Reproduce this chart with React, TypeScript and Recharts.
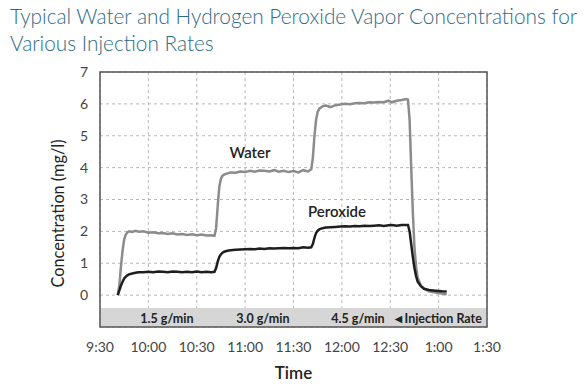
import React from 'react';
import { LineChart, Line, XAxis, YAxis, CartesianGrid, ReferenceArea, ReferenceDot } from 'recharts';

// minutes after 9:30
const minutes = [
  11, 12, 13, 14, 15, 16, 17, 18, 20, 22, 24, 27, 30, 33, 36, 39, 42, 45, 48, 51, 54, 57, 60, 63, 66, 69, 71,
  72, 73, 74, 75, 76, 77, 79, 81, 84, 87, 90, 93, 96, 99, 102, 105, 108, 111, 114, 117, 120, 123, 126, 129, 131,
  132, 133, 134, 135, 136, 138, 140, 143, 146, 149, 152, 155, 158, 161, 164, 167, 170, 173, 176, 179, 181, 184, 187, 190, 191,
  192, 193, 194, 195, 196, 197, 199, 201, 204, 208, 212, 215,
];

const water = [
  0.0, 0.3, 0.9, 1.4, 1.75, 1.9, 1.97, 2.0, 1.98, 2.02, 1.99, 2.0, 1.96, 1.97, 1.94, 1.95, 1.92, 1.94, 1.9, 1.92, 1.89, 1.91, 1.88, 1.9, 1.87, 1.88, 1.86,
  2.1, 2.8, 3.4, 3.65, 3.75, 3.78, 3.82, 3.85, 3.84, 3.88, 3.86, 3.9, 3.87, 3.91, 3.9, 3.88, 3.92, 3.87, 3.9, 3.86, 3.89, 3.85, 3.92, 3.88, 3.95,
  4.3, 5.0, 5.5, 5.75, 5.85, 5.92, 5.95, 5.9, 5.96, 5.98, 6.0, 5.99, 6.02, 6.03, 6.02, 6.05, 6.04, 6.06, 6.05, 6.1, 6.05, 6.1, 6.12, 6.15, 6.13,
  5.5, 4.0, 2.6, 1.5, 0.9, 0.55, 0.3, 0.2, 0.12, 0.08, 0.05, 0.03,
];

const peroxide = [
  0.0, 0.15, 0.3, 0.42, 0.52, 0.58, 0.62, 0.65, 0.68, 0.7, 0.72, 0.72, 0.73, 0.72, 0.74, 0.73, 0.72, 0.74, 0.73, 0.72, 0.73, 0.72, 0.74, 0.72, 0.73, 0.72, 0.73,
  0.85, 1.05, 1.2, 1.28, 1.33, 1.36, 1.39, 1.41, 1.42, 1.43, 1.44, 1.45, 1.44, 1.46, 1.45, 1.47, 1.46, 1.47, 1.48, 1.47, 1.48, 1.47, 1.5, 1.49, 1.5,
  1.6, 1.8, 1.95, 2.02, 2.06, 2.1, 2.12, 2.13, 2.14, 2.15, 2.16, 2.15, 2.17, 2.16, 2.18, 2.17, 2.18, 2.19, 2.17, 2.19, 2.2, 2.18, 2.2, 2.2, 2.2,
  2.0, 1.6, 1.2, 0.85, 0.6, 0.42, 0.28, 0.2, 0.16, 0.14, 0.12, 0.11,
];

const timeTicks = [0, 30, 60, 90, 120, 150, 180, 210, 240];
const timeLabels = ['9:30', '10:00', '10:30', '11:00', '11:30', '12:00', '12:30', '1:00', '1:30'];
const concTicks = [0, 1, 2, 3, 4, 5, 6, 7];

const rateLabels = [
  { x: 41.5, text: '1.5 g/min' },
  { x: 101, text: '3.0 g/min' },
  { x: 160, text: '4.5 g/min' },
  { x: 209, text: '◄Injection Rate' },
];

const data = minutes.map((m, i) => ({ t: m, water: water[i], peroxide: peroxide[i] }));

const App: React.FC = () => {
  return (
    <div style={{ position: 'relative', width: 579, height: 379, fontFamily: 'Lato, sans-serif' }}>
      <div
        style={{
          position: 'absolute',
          left: 2,
          top: -6,
          fontSize: 20.8,
          lineHeight: '27px',
          color: '#2e6b87',
          fontFamily: 'Lato, sans-serif',
          fontWeight: 300,
          whiteSpace: 'nowrap',
        }}
      >
        Typical Water and Hydrogen Peroxide Vapor Concentrations for
        <br />
        Various Injection Rates
      </div>
      <LineChart
        width={579}
        height={379}
        data={data}
        margin={{ top: 64, right: 100, bottom: 8, left: 42 }}
        style={{ position: 'absolute', left: 0, top: 0 }}
      >
        <CartesianGrid strokeDasharray="3 3" stroke="#b8b8b8" />
        <XAxis
          dataKey="t"
          type="number"
          domain={[0, 240]}
          ticks={timeTicks}
          tickFormatter={(v: number) => timeLabels[timeTicks.indexOf(v)]}
          axisLine={false}
          tickLine={false}
          tickMargin={9}
          tick={{ fontSize: 14, fill: '#444' }}
          interval={0}
          label={{ value: 'Time', position: 'insideBottom', offset: 0, fontSize: 17, fill: '#222', fontWeight: 600 }}
          height={52}
        />
        <YAxis
          type="number"
          domain={[-1, 7]}
          ticks={concTicks}
          axisLine={false}
          tickLine={false}
          tickMargin={6}
          tick={{ fontSize: 14, fill: '#444' }}
          width={50}
          label={{
            value: 'Concentration (mg/l)',
            angle: -90,
            position: 'insideLeft',
            offset: 8,
            dy: 14,
            style: { textAnchor: 'middle', fontSize: 16.3, fill: '#222' },
          }}
        />
        <ReferenceArea x1={0} x2={240} y1={-1} y2={-0.4} fill="#d6d6d6" fillOpacity={1} stroke="none" />
        <ReferenceArea x1={0} x2={240} y1={-1} y2={7} fill="none" fillOpacity={0} stroke="#555" strokeWidth={1.5} />
        {rateLabels.map((r) => (
          <ReferenceDot
            key={r.text}
            x={r.x}
            y={-0.72}
            r={0}
            fill="none"
            stroke="none"
            label={{ value: r.text, position: 'center', fontSize: 12.5, fontWeight: 700, fill: '#222' }}
          />
        ))}
        <Line
          type="linear"
          dataKey="water"
          stroke="#8c8c8c"
          strokeWidth={2.5}
          dot={false}
          isAnimationActive={false}
        />
        <Line
          type="linear"
          dataKey="peroxide"
          stroke="#1e1e1e"
          strokeWidth={2.5}
          dot={false}
          isAnimationActive={false}
        />
        <ReferenceDot
          x={93}
          y={4.46}
          r={0}
          fill="none"
          stroke="none"
          label={{ value: 'Water', position: 'center', fontSize: 15, fontWeight: 600, fill: '#222' }}
        />
        <ReferenceDot
          x={147}
          y={2.63}
          r={0}
          fill="none"
          stroke="none"
          label={{ value: 'Peroxide', position: 'center', fontSize: 15, fontWeight: 600, fill: '#222' }}
        />
      </LineChart>
    </div>
  );
};

export default App;
